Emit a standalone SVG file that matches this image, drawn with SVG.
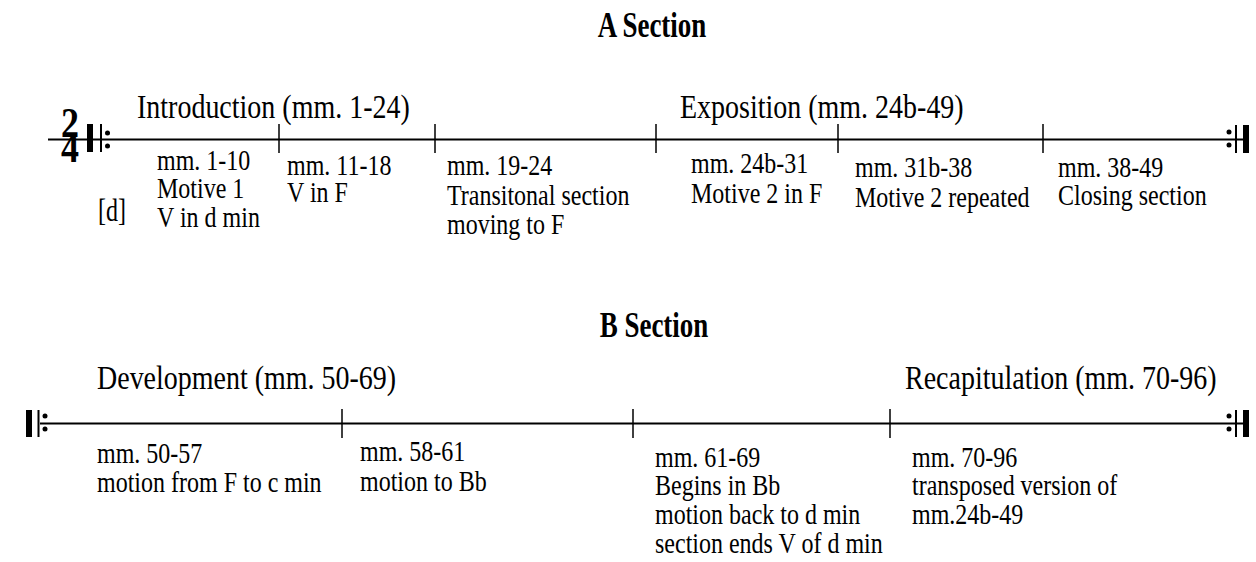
<svg xmlns="http://www.w3.org/2000/svg" width="1256" height="562" viewBox="0 0 1256 562">
<style>
.t{font-family:"Liberation Serif","Times New Roman",serif;fill:#000}
.title{font-size:27px;font-weight:bold}
.big{font-size:28px}
.sm{font-size:24px}
.ts{font-size:36px;font-weight:bold}
.ln{stroke:#000;stroke-width:2;fill:none}
.tk{stroke:#000;stroke-width:1.5;fill:none}
.thin{stroke:#000;stroke-width:2}
</style>
<rect width="1256" height="562" fill="#fff"/>
<g id="section-a">
<text class="t title" text-anchor="middle" transform="translate(652,37) scale(1,1.3)">A Section</text>
<text class="t big" transform="translate(137,118) scale(1,1.2)">Introduction (mm. 1-24)</text>
<text class="t big" transform="translate(680,118) scale(1,1.2)">Exposition (mm. 24b-49)</text>
</g>
<g id="connectors">
<line class="ln" x1="48" y1="139.5" x2="1243" y2="139.5"/>
<line class="tk" x1="279" y1="124" x2="279" y2="153"/>
<line class="tk" x1="435" y1="124" x2="435" y2="153"/>
<line class="tk" x1="656" y1="124" x2="656" y2="153"/>
<line class="tk" x1="838" y1="124" x2="838" y2="153"/>
<line class="tk" x1="1043" y1="124" x2="1043" y2="153"/>
<line class="ln" x1="40" y1="423.5" x2="1243" y2="423.5"/>
<line class="tk" x1="342" y1="409" x2="342" y2="438"/>
<line class="tk" x1="633" y1="409" x2="633" y2="438"/>
<line class="tk" x1="890" y1="409" x2="890" y2="438"/>
</g>
<g id="repeat-start-a">
<text class="t ts" transform="translate(61,137) scale(1,1.15)">2<tspan x="0" dy="22">4</tspan></text>
<rect x="87" y="124" width="6" height="28"/>
<line class="thin" x1="101" y1="124" x2="101" y2="152"/>
<circle cx="107.5" cy="133" r="2.5"/>
<circle cx="107.5" cy="146" r="2.5"/>
</g>
<g id="repeat-end-a">
<circle cx="1229" cy="132" r="2.5"/>
<circle cx="1229" cy="145" r="2.5"/>
<line class="thin" x1="1236" y1="125" x2="1236" y2="153"/>
<rect x="1243" y="125" width="6" height="28"/>
</g>
<g id="repeat-start-b">
<rect x="26" y="410" width="6" height="27"/>
<line class="thin" x1="38.5" y1="410" x2="38.5" y2="437"/>
<circle cx="45" cy="416" r="2.5"/>
<circle cx="45" cy="429" r="2.5"/>
</g>
<g id="repeat-end-b">
<circle cx="1229" cy="416" r="2.5"/>
<circle cx="1229" cy="429" r="2.5"/>
<line class="thin" x1="1236" y1="410" x2="1236" y2="437"/>
<rect x="1243" y="410" width="6" height="27"/>
</g>
<g id="key">
<text class="t sm" transform="translate(98,221) scale(1,1.3)">[d]</text>
</g>
<g id="m1-10">
<text class="t sm" transform="translate(157,170) scale(1,1.22)">mm. 1-10<tspan x="0" dy="23.2">Motive 1</tspan><tspan x="0" dy="23.8">V in d min</tspan></text>
</g>
<g id="m11-18">
<text class="t sm" transform="translate(287,175) scale(1,1.22)">mm. 11-18<tspan x="0" dy="22.5">V in F</tspan></text>
</g>
<g id="m19-24">
<text class="t sm" transform="translate(447,175) scale(1,1.22)">mm. 19-24<tspan x="0" dy="24.3">Transitonal section</tspan><tspan x="0" dy="23.8">moving to F</tspan></text>
</g>
<g id="m24b-31">
<text class="t sm" transform="translate(691,173) scale(1,1.22)">mm. 24b-31<tspan x="0" dy="24.3">Motive 2 in F</tspan></text>
</g>
<g id="m31b-38">
<text class="t sm" transform="translate(855,177) scale(1,1.22)">mm. 31b-38<tspan x="0" dy="24.3">Motive 2 repeated</tspan></text>
</g>
<g id="m38-49">
<text class="t sm" transform="translate(1058,177) scale(1,1.22)">mm. 38-49<tspan x="0" dy="23.2">Closing section</tspan></text>
</g>
<g id="section-b">
<text class="t title" text-anchor="middle" transform="translate(654,337) scale(1,1.3)">B Section</text>
<text class="t big" transform="translate(97,389) scale(1,1.2)">Development (mm. 50-69)</text>
<text class="t big" transform="translate(905,389) scale(1,1.2)">Recapitulation (mm. 70-96)</text>
</g>
<g id="m50-57">
<text class="t sm" transform="translate(97,463) scale(1,1.22)">mm. 50-57<tspan x="0" dy="23.8">motion from F to c min</tspan></text>
</g>
<g id="m58-61">
<text class="t sm" transform="translate(360,461) scale(1,1.22)">mm. 58-61<tspan x="0" dy="24.3">motion to Bb</tspan></text>
</g>
<g id="m61-69">
<text class="t sm" transform="translate(655,467) scale(1,1.22)">mm. 61-69<tspan x="0" dy="23.2">Begins in Bb</tspan><tspan x="0" dy="23.6">motion back to d min</tspan><tspan x="0" dy="23.6">section ends V of d min</tspan></text>
</g>
<g id="m70-96">
<text class="t sm" transform="translate(912,467) scale(1,1.22)">mm. 70-96<tspan x="0" dy="23.2">transposed version of</tspan><tspan x="0" dy="23.6">mm.24b-49</tspan></text>
</g>
</svg>
